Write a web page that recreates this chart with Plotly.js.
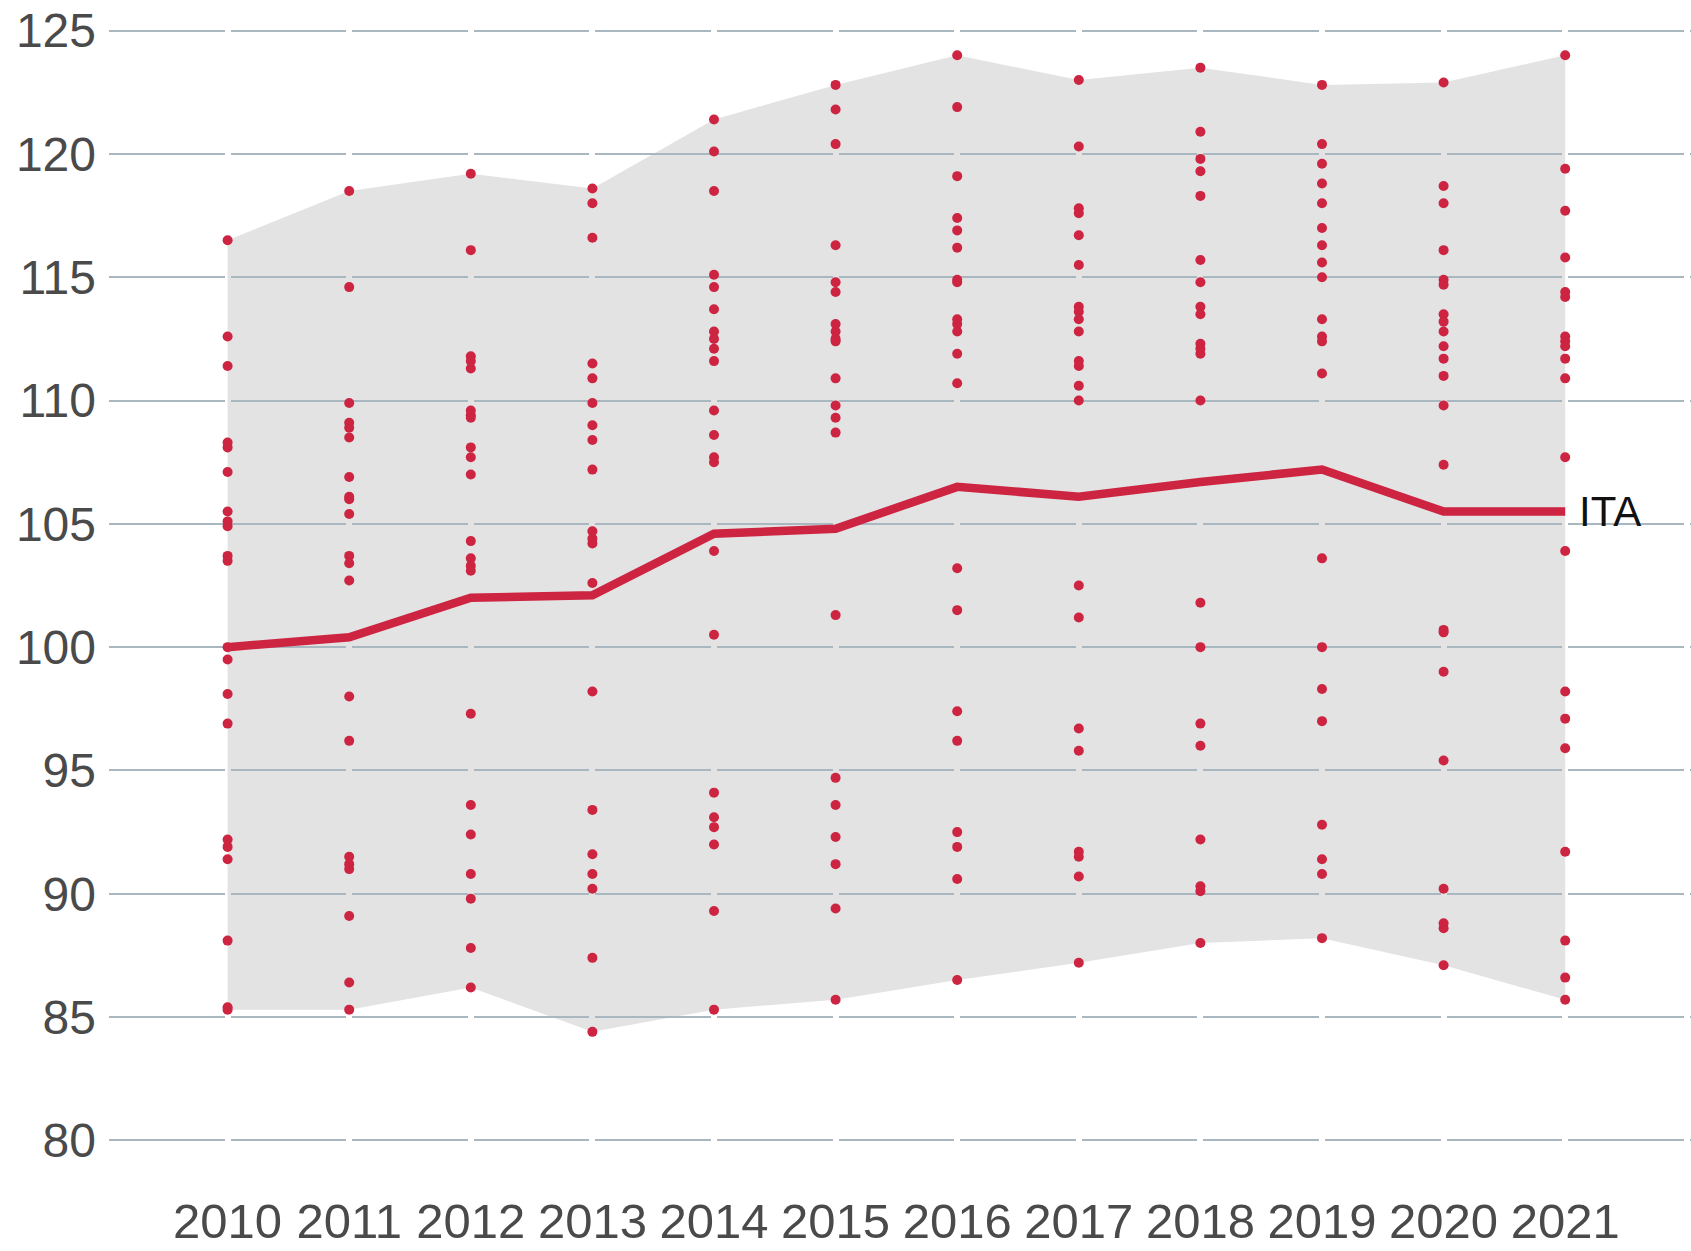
<!DOCTYPE html>
<html>
<head>
<meta charset="utf-8">
<script src="https://cdn.plot.ly/plotly-3.0.1.min.js"></script>
<style>html,body{margin:0;padding:0;background:#fff;}#chart{width:1691px;height:1251px;}</style>
</head>
<body>
<div id="chart"></div>
<script>
// ---- data ----
const years = [2010, 2011, 2012, 2013, 2014, 2015, 2016, 2017, 2018, 2019, 2020, 2021];
const yTicks = [80, 85, 90, 95, 100, 105, 110, 115, 120, 125];
const itaLabel = "ITA";
const itaValues = [100.0, 100.4, 102.0, 102.1, 104.6, 104.8, 106.5, 106.1, 106.7, 107.2, 105.5, 105.5];

const dots2010 = [116.5, 112.6, 111.4, 108.3, 108.1, 107.1, 105.5, 105.1, 104.9, 103.7, 103.5, 100.0, 99.5, 98.1, 96.9, 92.2, 91.9, 91.4, 88.1, 85.4, 85.3];
const dots2011 = [118.5, 114.6, 109.9, 109.1, 108.9, 108.5, 106.9, 106.1, 106.0, 105.4, 103.7, 103.4, 102.7, 98.0, 96.2, 91.5, 91.2, 91.0, 89.1, 86.4, 85.3];
const dots2012 = [119.2, 116.1, 111.8, 111.6, 111.3, 109.6, 109.4, 109.3, 108.1, 107.7, 107.0, 104.3, 103.6, 103.3, 103.1, 97.3, 93.6, 92.4, 90.8, 89.8, 87.8, 86.2];
const dots2013 = [118.6, 118.0, 116.6, 111.5, 110.9, 109.9, 109.0, 108.4, 107.2, 104.7, 104.4, 104.2, 102.6, 98.2, 93.4, 91.6, 90.8, 90.2, 87.4, 84.4];
const dots2014 = [121.4, 120.1, 118.5, 115.1, 114.6, 113.7, 112.8, 112.5, 112.1, 111.6, 109.6, 108.6, 107.7, 107.5, 103.9, 100.5, 94.1, 93.1, 92.7, 92.0, 89.3, 85.3];
const dots2015 = [122.8, 121.8, 120.4, 116.3, 114.8, 114.4, 113.1, 112.8, 112.5, 112.4, 110.9, 109.8, 109.3, 108.7, 101.3, 94.7, 93.6, 92.3, 91.2, 89.4, 85.7];
const dots2016 = [124.0, 121.9, 119.1, 117.4, 116.9, 116.2, 114.9, 114.8, 113.3, 113.1, 112.8, 111.9, 110.7, 103.2, 101.5, 97.4, 96.2, 92.5, 91.9, 90.6, 86.5];
const dots2017 = [123.0, 120.3, 117.8, 117.6, 116.7, 115.5, 113.8, 113.6, 113.3, 112.8, 111.6, 111.4, 110.6, 110.0, 102.5, 101.2, 96.7, 95.8, 91.7, 91.5, 90.7, 87.2];
const dots2018 = [123.5, 120.9, 119.8, 119.3, 118.3, 115.7, 114.8, 113.8, 113.5, 112.3, 112.1, 111.9, 110.0, 101.8, 100.0, 96.9, 96.0, 92.2, 90.3, 90.1, 88.0];
const dots2019 = [122.8, 120.4, 119.6, 118.8, 118.0, 117.0, 116.3, 115.6, 115.0, 113.3, 112.6, 112.4, 111.1, 103.6, 100.0, 98.3, 97.0, 92.8, 91.4, 90.8, 88.2];
const dots2020 = [122.9, 118.7, 118.0, 116.1, 114.9, 114.7, 113.5, 113.2, 112.8, 112.2, 111.7, 111.0, 109.8, 107.4, 100.7, 100.6, 99.0, 95.4, 90.2, 88.8, 88.6, 87.1];
const dots2021 = [124.0, 119.4, 117.7, 115.8, 114.4, 114.2, 112.6, 112.4, 112.2, 111.7, 110.9, 107.7, 103.9, 98.2, 97.1, 95.9, 91.7, 88.1, 86.6, 85.7];

const dotsByYear = [dots2010, dots2011, dots2012, dots2013, dots2014, dots2015,
                    dots2016, dots2017, dots2018, dots2019, dots2020, dots2021];

// ---- styles ----
const RED = '#cd2441';
const BAND = '#e3e3e3';
const GRID = '#a9b7c1';
const W = 1691, H = 1251;
const M = {l: 109, r: 0, t: 6, b: 86};
const GAP = 6;                       // break in the grid lines at each year
const plotW = W - M.l - M.r;
const firstDash = 115.6;             // px from left edge to first break
const PX_PER_YEAR = firstDash + GAP;
const x0 = years[0] - (firstDash + GAP / 2) / PX_PER_YEAR;
const x1 = x0 + plotW / PX_PER_YEAR;

// scatter points
const dotX = [], dotY = [];
dotsByYear.forEach((arr, i) => arr.forEach(v => { dotX.push(years[i]); dotY.push(v); }));

// envelope (min / max of every year, Italy included)
const upper = dotsByYear.map((arr, i) => Math.max(...arr, itaValues[i]));
const lower = dotsByYear.map((arr, i) => Math.min(...arr, itaValues[i]));
let path = 'M' + years.map((yr, i) => yr + ',' + upper[i]).join(' L');
path += ' L' + years.slice().reverse().map((yr, k) => yr + ',' + lower[years.length - 1 - k]).join(' L') + ' Z';

const traces = [
  {type: 'scatter', mode: 'markers', x: dotX, y: dotY,
   marker: {color: RED, size: 10, line: {width: 0}}, hoverinfo: 'skip', showlegend: false},
  {type: 'scatter', mode: 'lines', x: years, y: itaValues,
   line: {color: RED, width: 8.5}, hoverinfo: 'skip', showlegend: false}
];

const FONT = 'Liberation Sans, Arial, sans-serif';
const layout = {
  width: W, height: H,
  margin: M,
  paper_bgcolor: '#ffffff', plot_bgcolor: 'rgba(0,0,0,0)',
  showlegend: false,
  font: {family: FONT, color: '#4a4a4a', size: 48},
  xaxis: {
    range: [x0, x1], showgrid: false, zeroline: false, showline: false,
    tickmode: 'array', tickvals: years, ticktext: years.map(String),
    ticks: '', ticklabelstandoff: 23,
    tickfont: {size: 49, color: '#4a4a4a', family: FONT}
  },
  yaxis: {
    range: [79, 126], showgrid: true, gridcolor: GRID, gridwidth: 2,
    griddash: firstDash + 'px,' + GAP + 'px',
    zeroline: false, showline: false,
    tickmode: 'array', tickvals: yTicks, ticktext: yTicks.map(String),
    ticks: '', ticklabelstandoff: 12,
    tickfont: {size: 48, color: '#4a4a4a', family: FONT}
  },
  shapes: [{type: 'path', xref: 'x', yref: 'y', path: path, layer: 'below',
            fillcolor: BAND, line: {width: 0}}],
  annotations: [{x: years[years.length - 1], y: itaValues[itaValues.length - 1], xref: 'x', yref: 'y',
                 text: itaLabel, showarrow: false, xanchor: 'left', yanchor: 'middle', xshift: 12,
                 font: {size: 42, color: '#111111', family: FONT}}]
};

Plotly.newPlot('chart', traces, layout, {displayModeBar: false, staticPlot: true});
</script>
</body>
</html>
